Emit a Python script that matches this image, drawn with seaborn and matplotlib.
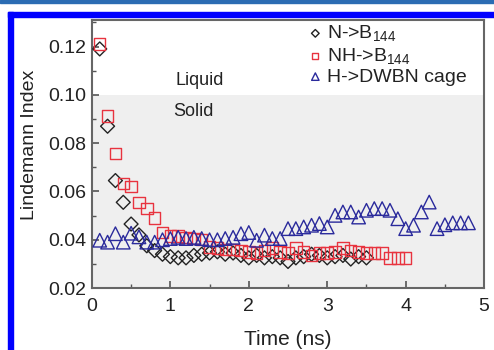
import matplotlib
matplotlib.use("Agg")
import matplotlib.pyplot as plt
from matplotlib.patches import Rectangle
from matplotlib.ticker import MultipleLocator, FormatStrFormatter
import seaborn as sns
import pandas as pd

# ---- data ----
times = [0.1, 0.2, 0.3, 0.4, 0.5, 0.6, 0.7, 0.8, 0.9, 1.0,
         1.1, 1.2, 1.3, 1.4, 1.5, 1.6, 1.7, 1.8, 1.9, 2.0,
         2.1, 2.2, 2.3, 2.4, 2.5, 2.6, 2.7, 2.8, 2.9, 3.0,
         3.1, 3.2, 3.3, 3.4, 3.5, 3.6, 3.7, 3.8, 3.9, 4.0,
         4.1, 4.2, 4.3, 4.4, 4.5, 4.6, 4.7, 4.8]

n_b144 = [0.119, 0.087, 0.0645, 0.0555, 0.0465, 0.042, 0.0375, 0.0355, 0.034, 0.033,
          0.0325, 0.0325, 0.0335, 0.034, 0.0345, 0.035, 0.034, 0.0345, 0.0335, 0.0325,
          0.0335, 0.0325, 0.033, 0.0325, 0.031, 0.0325, 0.033, 0.034, 0.0335, 0.0325,
          0.033, 0.0335, 0.032, 0.033, 0.0325]

nh_b144 = [0.121, 0.0913, 0.0757, 0.0633, 0.062, 0.0555, 0.053, 0.049, 0.043, 0.0415,
           0.0415, 0.041, 0.0405, 0.040, 0.037, 0.0365, 0.036, 0.036, 0.0355, 0.035,
           0.0345, 0.0355, 0.0365, 0.035, 0.0345, 0.0365, 0.035, 0.0335, 0.0345, 0.0345,
           0.035, 0.0365, 0.0355, 0.035, 0.0345, 0.0345, 0.0345, 0.0325, 0.0325, 0.0325]

h_dwbn = [0.0398, 0.039, 0.0425, 0.039, 0.0427, 0.0412, 0.039, 0.039, 0.040, 0.0405,
          0.041, 0.0405, 0.041, 0.0405, 0.040, 0.040, 0.0405, 0.041, 0.0425, 0.043,
          0.0398, 0.0419, 0.0405, 0.0405, 0.0446, 0.0446, 0.0453, 0.046, 0.0467, 0.0453,
          0.0501, 0.0515, 0.0515, 0.0494, 0.0522, 0.0529, 0.0529, 0.0522, 0.0487, 0.0446,
          0.046, 0.0515, 0.0556, 0.0446, 0.0462, 0.047, 0.047, 0.047]

labels = [r"N->B$_{144}$", r"NH->B$_{144}$", "H->DWBN cage"]
x_ticks = [0, 1, 2, 3, 4, 5]
y_ticks = [0.02, 0.04, 0.06, 0.08, 0.10, 0.12]

# ---- style ----
sns.set_theme(style="ticks")
plt.rcParams["font.family"] = ["Liberation Sans", "DejaVu Sans"]
plt.rcParams["mathtext.default"] = "regular"

fig = plt.figure(figsize=(4.94, 3.5), dpi=100)
fig.patch.set_facecolor("white")
ax = fig.add_axes([0.186, 0.177, 0.794, 0.766])

ax.set_xlim(0, 5)
ax.set_ylim(0.02, 0.131)
ax.axhspan(0.02, 0.10, color="#efefef", zorder=0, lw=0)

df_n = pd.DataFrame({"t": times[:len(n_b144)], "v": n_b144})
df_nh = pd.DataFrame({"t": times[:len(nh_b144)], "v": nh_b144})
df_h = pd.DataFrame({"t": times[:len(h_dwbn)], "v": h_dwbn})

sns.scatterplot(data=df_n, x="t", y="v", ax=ax, marker="D", s=50,
                facecolor="none", edgecolor="#222222", linewidth=1.0,
                label=labels[0], zorder=3)
sns.scatterplot(data=df_nh, x="t", y="v", ax=ax, marker="s", s=68,
                facecolor="none", edgecolor="#e8333f", linewidth=1.0,
                label=labels[1], zorder=4)
sns.scatterplot(data=df_h, x="t", y="v", ax=ax, marker="^", s=95,
                facecolor="none", edgecolor="#2a2a9c", linewidth=1.0,
                label=labels[2], zorder=5)

ax.text(1.38, 0.106, "Liquid", fontsize=13, ha="center", va="center", color="#222222")
ax.text(1.30, 0.093, "Solid", fontsize=13, ha="center", va="center", color="#222222")

ax.set_xticks(x_ticks)
ax.set_yticks(y_ticks)
ax.xaxis.set_minor_locator(MultipleLocator(0.5))
ax.yaxis.set_minor_locator(MultipleLocator(0.01))
ax.yaxis.set_major_formatter(FormatStrFormatter("%.2f"))
ax.tick_params(which="both", direction="in", colors="#555555", labelcolor="#222222")
ax.tick_params(which="major", length=5, width=1.2, labelsize=14)
ax.tick_params(which="minor", length=3, width=1.0)
ax.tick_params(axis="x", pad=7)
ax.tick_params(axis="y", pad=4)
for sp in ax.spines.values():
    sp.set_color("#666666")
    sp.set_linewidth(1.5)

ax.set_xlabel("Time (ns)", fontsize=15, color="#222222")
ax.set_ylabel("Lindemann Index", fontsize=14, color="#222222")
ax.xaxis.set_label_coords(0.5, -0.155)
ax.yaxis.set_label_coords(-0.138, 0.535)

leg = ax.legend(loc="upper left", bbox_to_anchor=(0.53, 1.016), frameon=False,
                fontsize=14, handletextpad=0.2, handlelength=0.8,
                labelspacing=0.12, borderaxespad=0, markerscale=0.55)
for txt in leg.get_texts():
    txt.set_color("#222222")

# blue frame of the original image
fig.patches.append(Rectangle((8 / 494, 0), 5 / 494, (350 - 12) / 350,
                             transform=fig.transFigure, color="#0000ff", zorder=10))
fig.patches.append(Rectangle((8 / 494, 1 - 17 / 350), 1 - 8 / 494, 5 / 350,
                             transform=fig.transFigure, color="#0000ff", zorder=10))
fig.patches.append(Rectangle((0, 1 - 2.5 / 350), 1, 2.5 / 350,
                             transform=fig.transFigure, color="#2b6cb3", zorder=10))

fig.savefig("out.png", dpi=100)
